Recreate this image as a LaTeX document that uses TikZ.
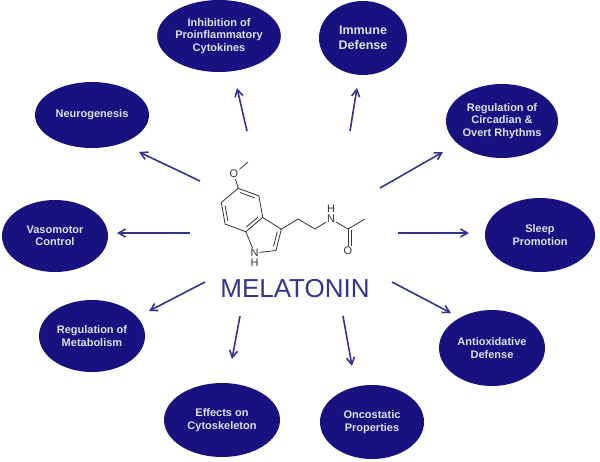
\documentclass[tikz,border=0pt]{standalone}
\usepackage{fontspec}
\setmainfont{Liberation Sans}
\usetikzlibrary{shapes.geometric,arrows.meta,calc}
\definecolor{navy}{RGB}{24,18,128}
\definecolor{arr}{RGB}{52,52,140}
\definecolor{ltxt}{RGB}{222,222,236}
\begin{document}
\begin{tikzpicture}[x=1pt,y=-1pt,
  bub/.style={ellipse,fill=navy,draw=none,inner sep=0pt,text=ltxt,align=center,font=\fontsize{11}{12.5}\selectfont\bfseries},
  ar/.style={draw=arr,line width=1.6pt,-{Straight Barb[length=7pt,width=8pt,line width=1.6pt]}},
  bond/.style={draw=black!80,line width=0.8pt},
  atom/.style={font=\fontsize{11}{11}\selectfont,inner sep=1pt,text=black!80}]
\useasboundingbox (0,0) rectangle (600,461);
\fill[white] (0,0) rectangle (600,461);
% bubbles
\node[bub,minimum width=116pt,minimum height=72pt] (inh) at (219,36) {Inhibition of\\Proinflammatory\\Cytokines};
\node[bub,minimum width=88pt,minimum height=74pt,font=\fontsize{12.5}{14.5}\selectfont\bfseries] (imm) at (363,38) {Immune\\Defense};
\node[bub,minimum width=114pt,minimum height=66pt] (neu) at (92,115) {Neurogenesis};
\node[bub,minimum width=112pt,minimum height=74pt] (cir) at (502,121) {Regulation of\\Circadian \&\\Overt Rhythms};
\node[bub,minimum width=106pt,minimum height=72pt] (vas) at (55,236) {Vasomotor\\Control};
\node[bub,minimum width=110pt,minimum height=74pt] (sle) at (540,235) {Sleep\\Promotion};
\node[bub,minimum width=106pt,minimum height=72pt] (met) at (92,336) {Regulation of\\Metabolism};
\node[bub,minimum width=106pt,minimum height=76pt] (ant) at (492,348) {Antioxidative\\Defense};
\node[bub,minimum width=116pt,minimum height=74pt] (cyt) at (222,420) {Effects on\\Cytoskeleton};
\node[bub,minimum width=104pt,minimum height=74pt] (onc) at (372,422) {Oncostatic\\Properties};
% arrows
\coordinate (t1) at (247,131); \coordinate (h1) at (237,88);
\coordinate (t2) at (350,131); \coordinate (h2) at (357,88);
\coordinate (t3) at (200,181); \coordinate (h3) at (139,152);
\coordinate (t4) at (380,188); \coordinate (h4) at (443,152);
\coordinate (t5) at (190,233); \coordinate (h5) at (117,233);
\coordinate (t6) at (398,233); \coordinate (h6) at (469,233);
\coordinate (t7) at (205,282); \coordinate (h7) at (149,311);
\coordinate (t8) at (392,282); \coordinate (h8) at (451,313);
\coordinate (t9) at (240,316); \coordinate (h9) at (232,359);
\coordinate (t10) at (343,316); \coordinate (h10) at (352,366);
\foreach \i in {1,...,10} \draw[ar] (t\i) -- (h\i);
% molecule
\coordinate (C5) at (238.2,188.3);
\coordinate (C4) at (258.9,195.9);
\coordinate (C3a) at (262.7,217.5);
\coordinate (C7a) at (245.8,231.7);
\coordinate (C7) at (225.1,224.1);
\coordinate (C6) at (221.3,202.5);
\coordinate (C3) at (281.3,229.2);
\coordinate (C2) at (276.0,250.5);
\node[atom] (N1) at (254.5,253) {N};
\node[atom,anchor=north] (H1) at (N1.south) {H};
\node[atom] (O1) at (234,174) {O};
\coordinate (Me) at (248,162);
\coordinate (a1) at (298,219);
\coordinate (a2) at (315,229);
\node[atom] (N2) at (331,219) {N};
\node[atom,anchor=south] (H2) at (N2.north) {H};
\coordinate (Cc) at (348,229);
\coordinate (Me2) at (365,219);
\node[atom] (O2) at (348,251) {O};
\draw[bond] (C5)--(C4)--(C3a)--(C7a)--(C7)--(C6)--cycle;
\draw[bond] (C3a)--(C3)--(C2)--(N1)--(C7a);
\draw[bond] ($(C4)!0.15!(C5)+(-1.2,3.1)$) -- ($(C5)!0.15!(C4)+(-1.2,3.1)$);
\draw[bond] ($(C6)!0.15!(C7)+(3.3,0)$) -- ($(C7)!0.15!(C6)+(3.3,0)$);
\draw[bond] ($(C3a)!0.15!(C7a)+(-2.1,-2.5)$) -- ($(C7a)!0.15!(C3a)+(-2.1,-2.5)$);
\draw[bond] ($(C3)!0.15!(C2)+(-3.2,-0.9)$) -- ($(C2)!0.15!(C3)+(-3.2,-0.9)$);
\draw[bond] (C5)--(O1)--(Me);
\draw[bond] (C3)--(a1)--(a2)--(N2)--(Cc)--(Me2);
\draw[bond] (Cc)--(O2);
\draw[bond] ($(Cc)+(3,1)$)--($(O2.north)+(3,0)$);
\node[text=arr,font=\fontsize{26}{26}\selectfont] (mel) at (295,289) {MELATONIN};
\end{tikzpicture}
\end{document}
